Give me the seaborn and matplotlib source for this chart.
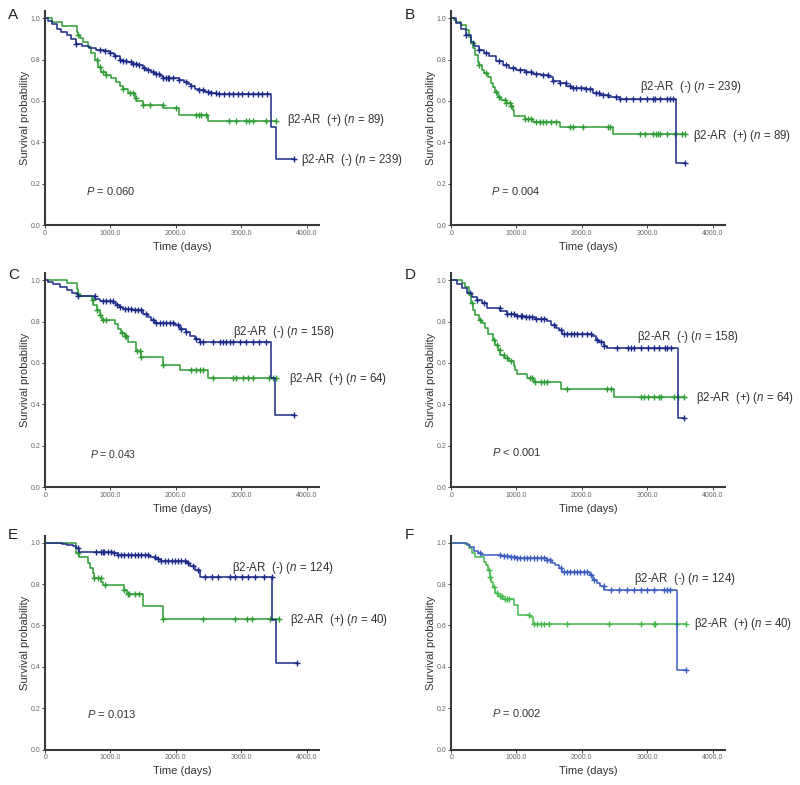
import numpy as np
import matplotlib
matplotlib.use('Agg')
from matplotlib import pyplot as plt
import seaborn as sns

sns.set_style('ticks')
plt.rcParams['font.family'] = ['Liberation Sans', 'DejaVu Sans']
plt.rcParams['mathtext.fontset'] = 'custom'
plt.rcParams['mathtext.rm'] = 'Liberation Sans'
plt.rcParams['mathtext.it'] = 'Liberation Sans:italic'

# ---- data (step times, survival after step, censor times) ----
# A
a_neg_t = [0, 50, 100, 180, 250, 330, 400, 480, 560, 680, 780, 900, 990, 1060, 1140, 1190, 1250, 1345, 1420,
           1500, 1550, 1620, 1680, 1760, 1800, 2055, 2120, 2180, 2230, 2290, 2360, 2440, 2540, 2620, 3450, 3530, 3810]
a_neg_s = [1.0, 0.985, 0.97, 0.95, 0.935, 0.92, 0.90, 0.875, 0.865, 0.855, 0.848, 0.84, 0.83, 0.815, 0.80, 0.795,
           0.788, 0.78, 0.772, 0.76, 0.75, 0.74, 0.73, 0.72, 0.71, 0.70, 0.69, 0.68, 0.67, 0.66, 0.653, 0.645, 0.638,
           0.632, 0.475, 0.32, 0.32]
a_neg_c = [480, 840, 915, 990, 1065, 1140, 1195, 1245, 1320, 1345, 1395, 1445, 1520, 1575, 1650, 1700, 1750, 1800,
           1850, 1880, 1900, 1955, 2055, 2160, 2235, 2360, 2410, 2490, 2540, 2615, 2665, 2740, 2815, 2870, 2945,
           3020, 3100, 3175, 3250, 3325, 3400, 3810]
a_pos_t = [0, 100, 254, 482, 508, 533, 584, 660, 711, 761, 812, 863, 939, 1015, 1091, 1142, 1193, 1269, 1371, 1396,
           1497, 1802, 2056, 2487, 3528]
a_pos_s = [1.0, 0.984, 0.963, 0.935, 0.918, 0.903, 0.885, 0.863, 0.83, 0.80, 0.766, 0.742, 0.726, 0.71, 0.694,
           0.673, 0.656, 0.64, 0.613, 0.60, 0.58, 0.565, 0.532, 0.503, 0.503]
a_pos_c = [510, 790, 840, 890, 940, 1195, 1295, 1345, 1395, 1500, 1600, 1800, 2005, 2310, 2360, 2385, 2460, 2815,
           2920, 3070, 3120, 3175, 3375, 3528]

# B
b_neg_t = [0, 77, 153, 230, 307, 358, 434, 511, 587, 690, 792, 894, 996, 1124, 1252, 1379, 1481, 1558, 1660, 1762,
           1839, 2069, 2171, 2273, 2401, 2580, 3448, 3576]
b_neg_s = [1.0, 0.976, 0.947, 0.919, 0.887, 0.866, 0.847, 0.831, 0.815, 0.794, 0.774, 0.758, 0.75, 0.742, 0.731,
           0.726, 0.715, 0.698, 0.685, 0.673, 0.665, 0.656, 0.640, 0.629, 0.621, 0.608, 0.302, 0.302]
b_neg_c = [230, 435, 535, 740, 840, 945, 1050, 1150, 1225, 1300, 1405, 1480, 1560, 1660, 1760, 1815, 1865, 1915,
           1990, 2070, 2120, 2220, 2270, 2325, 2400, 2530, 2580, 2680, 2785, 2890, 2990, 3090, 3115, 3195, 3300,
           3345, 3400, 3576]
b_pos_t = [0, 51, 77, 153, 230, 281, 307, 332, 373, 409, 434, 475, 511, 562, 613, 639, 679, 715, 766, 843, 920,
           945, 971, 1124, 1252, 1660, 2478, 3576]
b_pos_s = [1.0, 0.992, 0.984, 0.968, 0.944, 0.911, 0.879, 0.855, 0.823, 0.79, 0.774, 0.75, 0.737, 0.715, 0.689,
           0.666, 0.645, 0.621, 0.605, 0.589, 0.576, 0.556, 0.527, 0.511, 0.497, 0.476, 0.439, 0.439]
b_pos_c = [330, 435, 535, 690, 740, 820, 845, 895, 920, 1125, 1175, 1225, 1300, 1355, 1405, 1455, 1530, 1610, 1815,
           1865, 2020, 2400, 2425, 2885, 2965, 3090, 3140, 3165, 3195, 3300, 3420, 3525, 3576]

# C
c_neg_t = [0, 51, 127, 229, 330, 407, 483, 508, 762, 839, 1042, 1093, 1144, 1194, 1347, 1499, 1576, 1626, 1677,
           1982, 2058, 2160, 2211, 2287, 2363, 3456, 3522, 3812]
c_neg_s = [1.0, 0.992, 0.981, 0.968, 0.951, 0.94, 0.932, 0.922, 0.911, 0.90, 0.89, 0.879, 0.871, 0.862, 0.854,
           0.838, 0.822, 0.806, 0.793, 0.782, 0.765, 0.749, 0.728, 0.717, 0.70, 0.526, 0.348, 0.348]
c_neg_c = [510, 760, 890, 940, 990, 1040, 1095, 1145, 1220, 1270, 1320, 1370, 1425, 1475, 1550, 1650, 1700, 1755,
           1805, 1855, 1905, 1955, 2030, 2085, 2160, 2310, 2365, 2415, 2570, 2670, 2720, 2775, 2825, 2870, 2975,
           3075, 3175, 3280, 3380, 3812]
c_pos_t = [0, 330, 483, 508, 534, 712, 737, 788, 839, 864, 1067, 1118, 1169, 1220, 1271, 1398, 1474, 1804, 2058,
           2490, 3532]
c_pos_s = [1.0, 0.987, 0.96, 0.935, 0.922, 0.903, 0.879, 0.854, 0.83, 0.809, 0.79, 0.765, 0.744, 0.728, 0.70,
           0.66, 0.628, 0.592, 0.566, 0.526, 0.526]
c_pos_c = [510, 735, 790, 840, 890, 940, 1170, 1220, 1245, 1400, 1450, 1475, 1805, 2235, 2310, 2365, 2415, 2565,
           2870, 2920, 3025, 3100, 3175, 3430, 3480, 3532]

# D
d_neg_t = [0, 92, 169, 245, 322, 398, 475, 552, 756, 858, 986, 1139, 1292, 1471, 1522, 1599, 1650, 1701, 2161,
           2212, 2263, 2340, 2391, 3464, 3566]
d_neg_s = [1.0, 0.982, 0.961, 0.937, 0.918, 0.905, 0.889, 0.865, 0.849, 0.837, 0.828, 0.821, 0.812, 0.805, 0.784,
           0.768, 0.757, 0.741, 0.731, 0.712, 0.699, 0.683, 0.671, 0.333, 0.333]
d_neg_c = [295, 400, 500, 755, 860, 910, 960, 1010, 1065, 1090, 1140, 1190, 1245, 1295, 1370, 1420, 1575, 1675,
           1725, 1780, 1830, 1880, 1930, 2010, 2085, 2135, 2240, 2290, 2340, 2545, 2700, 2750, 2800, 2905, 3005,
           3110, 3185, 3265, 3310, 3365, 3566]
d_pos_t = [0, 169, 220, 271, 307, 337, 373, 424, 475, 526, 562, 644, 679, 715, 756, 807, 884, 960, 986, 1012,
           1165, 1267, 1676, 2493, 3566]
d_pos_s = [1.0, 0.989, 0.969, 0.929, 0.889, 0.857, 0.833, 0.808, 0.792, 0.768, 0.741, 0.712, 0.688, 0.663, 0.639,
           0.623, 0.607, 0.583, 0.567, 0.548, 0.527, 0.506, 0.473, 0.433, 0.433]
d_pos_c = [320, 450, 655, 705, 755, 805, 860, 910, 1215, 1240, 1290, 1370, 1420, 1470, 1780, 2390, 2440, 2900,
           2955, 3005, 3105, 3185, 3210, 3415, 3465, 3566]

# E
e_neg_t = [0, 87, 267, 344, 421, 472, 523, 1036, 1113, 1600, 1677, 1779, 2164, 2215, 2292, 2369, 3472, 3533, 3856]
e_neg_s = [1.0, 0.997, 0.994, 0.989, 0.984, 0.973, 0.956, 0.948, 0.94, 0.929, 0.919, 0.913, 0.903, 0.887, 0.868,
           0.835, 0.626, 0.419, 0.419]
e_neg_c = [500, 780, 855, 880, 905, 960, 1010, 1060, 1115, 1165, 1215, 1265, 1320, 1370, 1420, 1470, 1525, 1575,
           1675, 1730, 1780, 1830, 1880, 1935, 1985, 2035, 2085, 2140, 2190, 2265, 2345, 2445, 2550, 2650, 2830,
           2905, 3010, 3110, 3215, 3345, 3470, 3856]
e_pos_t = [0, 472, 523, 662, 692, 728, 754, 856, 882, 1215, 1256, 1497, 1805, 3574]
e_pos_s = [1.0, 0.952, 0.929, 0.903, 0.876, 0.852, 0.831, 0.811, 0.794, 0.771, 0.752, 0.694, 0.629, 0.629]
e_pos_c = [500, 755, 805, 855, 910, 1215, 1265, 1290, 1370, 1445, 1805, 2420, 2910, 3085, 3165, 3445, 3574]

# F
f_neg_t = [0, 194, 245, 296, 347, 408, 474, 781, 908, 1010, 1469, 1546, 1597, 1648, 1699, 2133, 2173, 2235, 2286,
           2337, 3449, 3587]
f_neg_s = [1.0, 0.997, 0.989, 0.977, 0.961, 0.952, 0.942, 0.936, 0.929, 0.924, 0.916, 0.904, 0.892, 0.876, 0.86,
           0.844, 0.82, 0.804, 0.791, 0.772, 0.386, 0.386]
f_neg_c = [450, 755, 805, 860, 910, 960, 1010, 1060, 1110, 1165, 1215, 1265, 1315, 1370, 1420, 1470, 1520, 1675,
           1725, 1775, 1825, 1880, 1930, 1980, 2030, 2080, 2135, 2185, 2335, 2440, 2565, 2695, 2795, 2900, 3000,
           3100, 3255, 3305, 3355, 3587]
f_pos_t = [0, 219, 270, 321, 372, 500, 541, 561, 592, 612, 643, 679, 714, 781, 959, 1020, 1204, 1255, 3587]
f_pos_s = [1.0, 0.994, 0.973, 0.949, 0.929, 0.908, 0.892, 0.868, 0.836, 0.812, 0.788, 0.759, 0.743, 0.727, 0.699,
           0.651, 0.64, 0.606, 0.606]
f_pos_c = [575, 600, 655, 705, 755, 780, 830, 855, 880, 1190, 1265, 1315, 1370, 1420, 1495, 1775, 2415, 2900,
           3100, 3125, 3460, 3587]

panel_letters = ['A', 'B', 'C', 'D', 'E', 'F']
p_values = ['= 0.060', '= 0.004', '= 0.043', '< 0.001', '= 0.013', '= 0.002']
n_neg = [239, 239, 158, 158, 124, 124]
n_pos = [89, 89, 64, 64, 40, 40]
xticks = [0, 1000, 2000, 3000, 4000]
xtick_labels_a = ['0', '1000.0', '2000.0', '3000.0', '4000.0']
xtick_labels = ['.0', '1000.0', '2000.0', '3000.0', '4000.0']
yticks = [0.0, 0.2, 0.4, 0.6, 0.8, 1.0]

curves = [
    (a_neg_t, a_neg_s, a_neg_c, a_pos_t, a_pos_s, a_pos_c),
    (b_neg_t, b_neg_s, b_neg_c, b_pos_t, b_pos_s, b_pos_c),
    (c_neg_t, c_neg_s, c_neg_c, c_pos_t, c_pos_s, c_pos_c),
    (d_neg_t, d_neg_s, d_neg_c, d_pos_t, d_pos_s, d_pos_c),
    (e_neg_t, e_neg_s, e_neg_c, e_pos_t, e_pos_s, e_pos_c),
    (f_neg_t, f_neg_s, f_neg_c, f_pos_t, f_pos_s, f_pos_c),
]

# label anchors (time, survival) for the group labels and P value
neg_lab = [(3910, 0.315), (2886, 0.666), (2872, 0.75), (2850, 0.725), (2867, 0.876), (2796, 0.823)]
pos_lab = [(3705, 0.508), (3704, 0.43), (3725, 0.523), (3745, 0.43), (3754, 0.626), (3714, 0.606)]
p_lab = [(625, 0.165), (613, 0.165), (686, 0.162), (628, 0.167), (641, 0.174), (628, 0.177)]

blue, green = '#1b2a86', '#2e9c34'
blue_f, green_f = '#3b5cc0', '#45b84a'


def surv_at(t, s, c):
    t = np.asarray(t)
    idx = np.searchsorted(t, c, side='right') - 1
    return np.asarray(s)[idx]


W, H = 800, 785
fig = plt.figure(figsize=(8, 7.85), dpi=100)
origins = [(45, 225), (451, 225), (45, 487), (451, 487), (45, 749.5), (451, 749.5)]
letter_pos = [(8, 15), (405, 15), (8, 275), (405, 275), (8, 535), (405, 535)]

for i in range(6):
    x0, y0 = origins[i]
    ax = fig.add_axes([x0 / W, (H - y0) / H, 274 / W, 214 / H])
    nt, ns, nc, pt, ps, pc = curves[i]
    cb, cg = (blue_f, green_f) if i == 5 else (blue, green)

    sns.lineplot(x=pt, y=ps, drawstyle='steps-post', estimator=None, sort=False,
                 color=cg, linewidth=1.1, ax=ax)
    sns.scatterplot(x=pc, y=surv_at(pt, ps, pc), marker='+', s=24, color=cg, linewidth=1.0, ax=ax)
    sns.lineplot(x=nt, y=ns, drawstyle='steps-post', estimator=None, sort=False,
                 color=cb, linewidth=1.1, ax=ax)
    sns.scatterplot(x=nc, y=surv_at(nt, ns, nc), marker='+', s=24, color=cb, linewidth=1.0, ax=ax)

    ax.set_xlim(0, 4190)
    ax.set_ylim(0, 1.035)
    ax.set_xticks(xticks)
    ax.set_xticklabels(xtick_labels_a if i == 0 else xtick_labels)
    ax.set_yticks(yticks)
    ax.set_yticklabels(['%.1f' % v for v in yticks])
    ax.tick_params(labelsize=5, colors='#444', length=2, width=0.7, pad=1.5, labelcolor='#666')
    for side in ['top', 'right']:
        ax.spines[side].set_visible(False)
    for side in ['left', 'bottom']:
        ax.spines[side].set_linewidth(1.5)
        ax.spines[side].set_color('#3a3a3a')

    ax.set_xlabel('Time (days)', fontsize=8, color='#333', labelpad=3.5)
    ax.set_ylabel('Survival probability', fontsize=8, color='#333', labelpad=0.5)

    ax.text(*neg_lab[i], r'β2-AR  (-) ($\it{n}$ = %d)' % n_neg[i], fontsize=8.3, color='#333', va='center')
    ax.text(*pos_lab[i], r'β2-AR  (+) ($\it{n}$ = %d)' % n_pos[i], fontsize=8.3, color='#333', va='center')
    ax.text(*p_lab[i], r'$\it{P}$ ' + p_values[i], fontsize=7.5 if i == 2 else 8, color='#333', va='center')

    lx, ly = letter_pos[i]
    fig.text(lx / W, 1 - ly / H, panel_letters[i], fontsize=11, va='center', ha='left', color='#222')

fig.savefig('out.png', dpi=100)
